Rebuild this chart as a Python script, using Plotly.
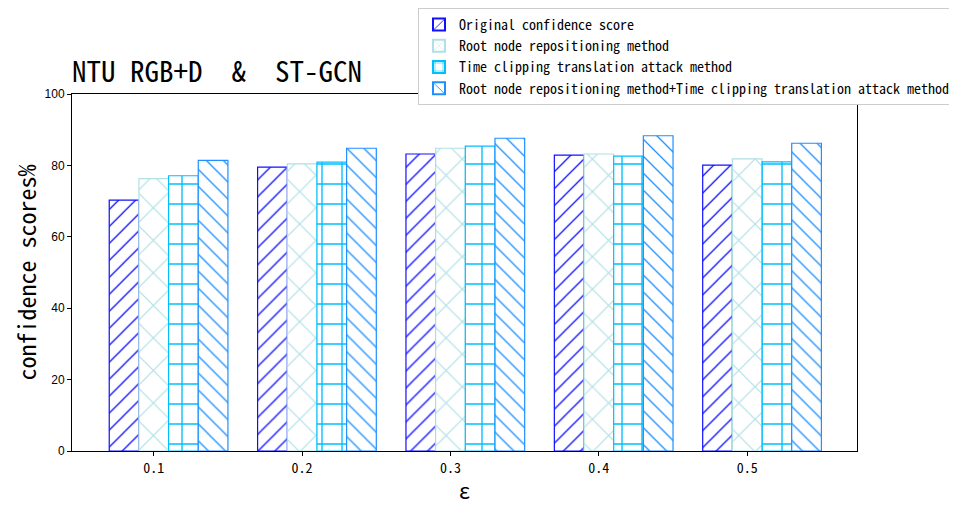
import plotly.graph_objects as go

eps = [0.1, 0.2, 0.3, 0.4, 0.5]
tick_labels = ["0.1", "0.2", "0.3", "0.4", "0.5"]
series_names = [
    "Original confidence score",
    "Root node repositioning method",
    "Time clipping translation attack method",
    "Root node repositioning method+Time clipping translation attack method",
]
original = [70.3, 79.5, 83.2, 82.9, 80.1]
root_node = [76.3, 80.4, 84.8, 83.2, 81.8]
time_clip = [77.1, 80.9, 85.4, 82.6, 81.0]
combined = [81.4, 84.8, 87.6, 88.3, 86.2]

values = [original, root_node, time_clip, combined]
colors = ["#1010FF", "#B0E0E6", "#00BFFF", "#1E90FF"]
shapes = ["/", "x", "+", "\\"]
sizes = [12, 23, 20, 12]
solid = [0.11, 0.1, 0.13, 0.11]
offsets = [-0.03, -0.01, 0.01, 0.03]
bar_w = 0.02

MONO = "Noto Sans Mono CJK SC, DejaVu Sans Mono, monospace"

# page has an 8px body margin; figure pixel coords = screen coords - 8
W, H = 949, 497
L, R, T, B = 64, 849, 86, 443

fig = go.Figure()
for name, vals, col, shp, sz, so, off in zip(series_names, values, colors, shapes, sizes, solid, offsets):
    fig.add_trace(go.Bar(
        x=eps, y=vals, name=name, width=bar_w, offset=off,
        marker=dict(
            color=col,
            line=dict(color=col, width=1.2),
            pattern=dict(shape=shp, fgcolor=col, bgcolor="white", size=sz,
                         solidity=so, fillmode="replace"),
        ),
    ))

fig.update_layout(
    width=W, height=H,
    margin=dict(l=L, r=W - R, t=T, b=H - B, autoexpand=False),
    paper_bgcolor="white", plot_bgcolor="white",
    barmode="overlay",
    title=dict(text="NTU RGB+D  &  ST-GCN", x=L / W, xanchor="left",
               y=1 - 74 / H, yanchor="bottom", yref="container",
               font=dict(family=MONO, size=29, color="black")),
    legend=dict(
        x=(947 - L) / (R - L), xanchor="right", y=(B - 0) / (B - T), yanchor="top",
        font=dict(family=MONO, size=14, color="black"),
        bordercolor="#cccccc", borderwidth=1, bgcolor="white",
        tracegroupgap=0, itemsizing="constant",
    ),
    showlegend=True,
)
fig.update_xaxes(
    range=[0.0449, 0.574], tickvals=eps, ticktext=tick_labels,
    ticks="outside", ticklen=4, tickcolor="black",
    showline=True, linecolor="black", linewidth=1, mirror=True,
    showgrid=False, zeroline=False,
    tickfont=dict(family=MONO, size=14, color="black"),
    title=dict(text="ε", font=dict(family=MONO, size=22, color="black"), standoff=4),
)
fig.update_yaxes(
    range=[0, 100], tickvals=[0, 20, 40, 60, 80, 100],
    ticks="outside", ticklen=4, tickcolor="black",
    showline=True, linecolor="black", linewidth=1, mirror=True,
    showgrid=False, zeroline=False,
    tickfont=dict(family="Liberation Sans, Arial", size=12, color="black"),
    title=dict(text="confidence scores%", font=dict(family=MONO, size=24, color="black"), standoff=10),
)

fig.write_html("out.html")
